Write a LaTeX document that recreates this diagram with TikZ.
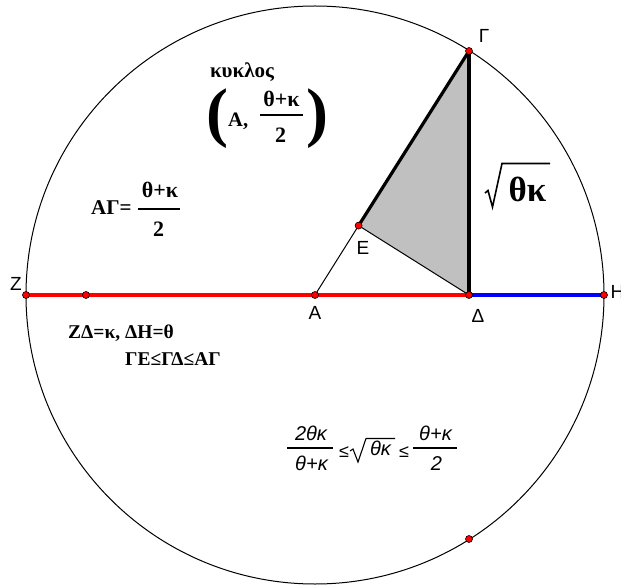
\documentclass[tikz,border=0pt]{standalone}
\usepackage{fontspec}
\setmainfont{Liberation Serif}
\newfontfamily\sansf{Liberation Sans}
\definecolor{trigray}{RGB}{192,192,192}
\tikzset{
  pnt/.style={circle,fill=red,draw=black,line width=0.6pt,inner sep=0pt,minimum size=7pt},
  lbl/.style={font=\sansf\fontsize{19}{19}\selectfont,inner sep=0pt},
  bt/.style={font=\bfseries\fontsize{19.5}{20}\selectfont,inner sep=0pt},
  bfr/.style={font=\bfseries\fontsize{22}{22}\selectfont,inner sep=0pt,anchor=base},
  it/.style={font=\sansf\itshape\fontsize{20}{20}\selectfont,inner sep=0pt,anchor=base},
  lesym/.style={font=\sansf\fontsize{18}{18}\selectfont,inner sep=0pt,anchor=base},
  paren/.style={font=\bfseries\fontsize{66}{66}\selectfont,inner sep=0pt},
  thin/.style={line width=1pt},
  bar/.style={line width=1.4pt},
  rad/.style={line width=1.3pt,line join=miter},
}
\begin{document}
\begin{tikzpicture}[x=1pt,y=-1pt]
\useasboundingbox (0,0) rectangle (621,585);
% geometry
\coordinate (cA) at (315,295);
\coordinate (cZ) at (26,295);
\coordinate (cP) at (86,295);
\coordinate (cD) at (469,295);
\coordinate (cH) at (604,295);
\coordinate (cG) at (469,51);
\coordinate (cE) at (358.6,225.6);
\coordinate (cB) at (469,539);
% circle
\draw[thin] (cA) circle[radius=289];
% triangle
\fill[trigray] (cG) -- (cE) -- (cD) -- cycle;
\draw[thin] (cA) -- (cE);
\draw[thin] (cE) -- (cD);
\draw[line width=3.2pt] (cE) -- (cG);
\draw[line width=4pt,red] (cZ) -- (cD);
\draw[line width=4pt,blue] (cD) -- (cH);
\draw[line width=4pt] (cD) -- (cG);
% points
\node[pnt] (Z) at (cZ) {};
\node[pnt] (P) at (cP) {};
\node[pnt] (A) at (cA) {};
\node[pnt] (D) at (cD) {};
\node[pnt] (H) at (cH) {};
\node[pnt] (G) at (cG) {};
\node[pnt] (E) at (cE) {};
\node[pnt] (B) at (cB) {};
% point labels
\node[lbl] (lG) at (484,36) {Γ};
\node[lbl] (lE) at (363,248) {Ε};
\node[lbl] (lZ) at (16,284) {Ζ};
\node[lbl] (lA) at (315,313) {Α};
\node[lbl] (lD) at (478,316) {Δ};
\node[lbl,anchor=west] (lH) at (610.5,292) {Η};
% kyklos (A, (th+k)/2)
\node[bt,font=\bfseries\fontsize{21}{22}\selectfont,anchor=base] (kyk) at (242,78) {κυκλος};
\node[paren] (lp) at (217.5,119) {(};
\node[paren] (rp) at (317.5,119) {)};
\node[bt,font=\bfseries\fontsize{20.5}{21}\selectfont,anchor=base west] (argA) at (228,127) {Α,};
\node[bfr] (argN) at (281.5,107) {θ+κ};
\node[bfr] (argD) at (280.5,143) {2};
\draw[bar] (260,115) -- (303,115);
% AG = (th+k)/2
\node[bt,font=\bfseries\fontsize{21}{22}\selectfont,anchor=base west] (agL) at (91,215) {ΑΓ=};
\node[bfr] (agN) at (160,198) {θ+κ};
\node[bfr] (agD) at (158.5,237) {2};
\draw[bar] (138,209) -- (180,209);
% sqrt(th k) big
\draw[rad,line width=1.6pt] (485,193) -- (488,190.5) -- (492.5,207) -- (502,163.5) -- (550,163.5);
\node[bt,font=\bfseries\fontsize{35}{35}\selectfont,anchor=base] (sq) at (527.5,202) {θκ};
% relations
\node[bt,anchor=base west] (zd) at (68,338) {ΖΔ=κ, ΔΗ=θ};
\node[bt,anchor=base west] (ge) at (125,365) {ΓΕ≤ΓΔ≤ΑΓ};
% bottom inequality
\node[it] (f1N) at (311,440) {2θκ};
\node[it] (f1D) at (311.5,470) {θ+κ};
\draw[bar,line width=1.2pt] (287,448) -- (333,448);
\node[lesym] (le1) at (344,457) {≤};
\draw[rad,line width=1.1pt] (350,451) -- (353,449) -- (358,462) -- (366,438.5) -- (395,438.5);
\node[it] (sqi) at (380.5,455) {θκ};
\node[lesym] (le2) at (404,457) {≤};
\draw[bar,line width=1.2pt] (413,448) -- (457,448);
\node[it] (f2N) at (435.5,440) {θ+κ};
\node[it] (f2D) at (436.5,470) {2};
\end{tikzpicture}
\end{document}
